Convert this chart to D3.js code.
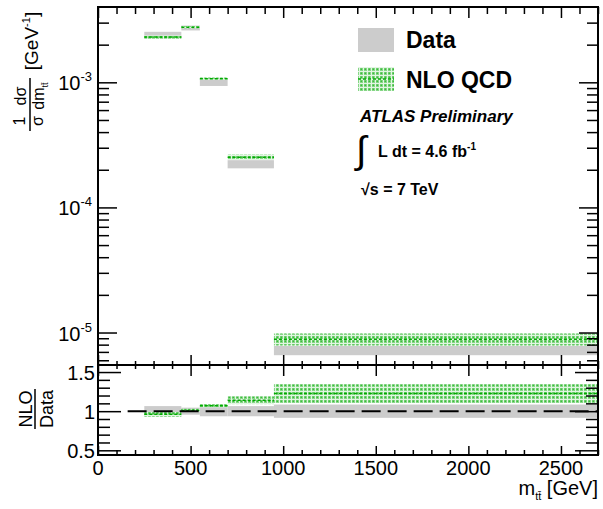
<!DOCTYPE html>
<html>
<head>
<meta charset="utf-8">
<script src="https://cdn.jsdelivr.net/npm/d3@7"></script>
<style>
  body { margin: 0; background: #fff; }
  svg { display: block; font-family: 'Liberation Sans', Arial, sans-serif; }
</style>
</head>
<body>
<div id="chart"></div>
<script>
const binLow = [250, 450, 550, 700, 950]
const binHigh = [450, 550, 700, 950, 2700]
const dataValue = [2.39e-3, 2.72e-3, 1.0e-3, 2.22e-4, 7.2e-6]
const dataRelErr = [0.06, 0.045, 0.065, 0.075, 0.085]
const nloValue = [2.30e-3, 2.76e-3, 1.07e-3, 2.52e-4, 8.85e-6]
const nloRelErr = [0.03, 0.02, 0.02, 0.05, 0.11]
const ratioValue = [0.96, 1.01, 1.07, 1.14, 1.225]
const ratioErr = [0.03, 0.02, 0.02, 0.05, 0.12]
const ratioDataErr = [0.065, 0.045, 0.065, 0.065, 0.085]

const xTicks = [0, 500, 1000, 1500, 2000, 2500]
const yDecades = [1e-5, 1e-4, 1e-3]
const yDecadeExp = ['-5', '-4', '-3']
const ratioTicks = [0.5, 1, 1.5]
const ratioTickLabels = ['0.5', '1', '1.5']

const W = 603, H = 509
const L = 98, R = 598, T = 7, MID = 365, B = 455
const GRAY = '#cccccc', GREEN = '#00aa00'

const svg = d3.select('#chart').append('svg').attr('width', W).attr('height', H)
svg.append('rect').attr('width', W).attr('height', H).attr('fill', '#fff')

const defs = svg.append('defs')
const pat = defs.append('pattern').attr('id', 'nlo').attr('patternUnits', 'userSpaceOnUse')
  .attr('width', 4).attr('height', 4)
pat.append('rect').attr('width', 4).attr('height', 4).attr('fill', '#e2f5e2')
pat.append('rect').attr('width', 3).attr('height', 3).attr('fill', '#86d686')
pat.append('rect').attr('x', 0.5).attr('y', 0.5).attr('width', 1.5).attr('height', 1.5).attr('fill', '#3cbc3c')

const x = d3.scaleLinear().domain([0, 2700]).range([L, R])
const y = d3.scaleLog().domain([5.5e-6, 4e-3]).range([MID, T])
const yr = d3.scaleLinear().domain([0.44, 1.59]).range([B, MID])

const bins = d3.range(binLow.length)

// upper pad bands
svg.append('g').selectAll('rect').data(bins).enter().append('rect')
  .attr('x', i => x(binLow[i])).attr('width', i => x(binHigh[i]) - x(binLow[i]))
  .attr('y', i => y(dataValue[i] * (1 + dataRelErr[i])))
  .attr('height', i => y(dataValue[i] * (1 - dataRelErr[i])) - y(dataValue[i] * (1 + dataRelErr[i])))
  .attr('fill', GRAY)

svg.append('g').selectAll('rect').data(bins).enter().append('rect')
  .attr('x', i => x(binLow[i])).attr('width', i => x(binHigh[i]) - x(binLow[i]))
  .attr('y', i => y(nloValue[i] * (1 + nloRelErr[i])))
  .attr('height', i => y(nloValue[i] * (1 - nloRelErr[i])) - y(nloValue[i] * (1 + nloRelErr[i])))
  .attr('fill', 'url(#nlo)')

svg.append('g').selectAll('line').data(bins).enter().append('line')
  .attr('x1', i => x(binLow[i])).attr('x2', i => x(binHigh[i]))
  .attr('y1', i => y(nloValue[i])).attr('y2', i => y(nloValue[i]))
  .attr('stroke', GREEN).attr('stroke-width', 1.5).attr('stroke-dasharray', '3,2')

// ratio pad bands
svg.append('g').selectAll('rect').data(bins).enter().append('rect')
  .attr('x', i => x(binLow[i])).attr('width', i => x(binHigh[i]) - x(binLow[i]))
  .attr('y', i => yr(1 + ratioDataErr[i]))
  .attr('height', i => yr(1 - ratioDataErr[i]) - yr(1 + ratioDataErr[i]))
  .attr('fill', GRAY)

svg.append('g').selectAll('rect').data(bins).enter().append('rect')
  .attr('x', i => x(binLow[i])).attr('width', i => x(binHigh[i]) - x(binLow[i]))
  .attr('y', i => yr(ratioValue[i] + ratioErr[i]))
  .attr('height', i => yr(ratioValue[i] - ratioErr[i]) - yr(ratioValue[i] + ratioErr[i]))
  .attr('fill', 'url(#nlo)')

svg.append('g').selectAll('line').data(bins).enter().append('line')
  .attr('x1', i => x(binLow[i])).attr('x2', i => x(binHigh[i]))
  .attr('y1', i => yr(ratioValue[i])).attr('y2', i => yr(ratioValue[i]))
  .attr('stroke', GREEN).attr('stroke-width', 1.5).attr('stroke-dasharray', '3,2')

svg.append('line')
  .attr('x1', x(160)).attr('x2', x(2700)).attr('y1', yr(1)).attr('y2', yr(1))
  .attr('stroke', '#000').attr('stroke-width', 2).attr('stroke-dasharray', '19,7')

// axes
const xMinor = d3.range(0, 2701, 100).filter(v => v % 500 !== 0)
const logMinor = []
d3.range(-6, -2).forEach(e => d3.range(2, 10).forEach(m => {
  const v = m * Math.pow(10, e)
  if (v > 5.5e-6 && v < 4e-3) logMinor.push(v)
}))
const rMinor = d3.range(5, 16).map(v => v / 10).filter(v => !ratioTicks.includes(v))

function ticks (axis, pos, values, size) {
  const g = svg.append('g').attr('transform', pos)
    .call(axis.tickValues(values).tickSize(size).tickFormat(''))
  g.select('.domain').remove()
  g.selectAll('.tick line').attr('stroke', '#000').attr('stroke-width', 1.5)
  return g
}

// upper pad
ticks(d3.axisBottom(x), `translate(0,${T})`, xMinor, 7)
ticks(d3.axisBottom(x), `translate(0,${T})`, xTicks, 11)
ticks(d3.axisTop(x), `translate(0,${MID})`, xMinor, 4)
ticks(d3.axisTop(x), `translate(0,${MID})`, xTicks, 10)
ticks(d3.axisRight(y), `translate(${L},0)`, logMinor, 11)
ticks(d3.axisRight(y), `translate(${L},0)`, yDecades, 19)
ticks(d3.axisLeft(y), `translate(${R},0)`, logMinor, 11)
ticks(d3.axisLeft(y), `translate(${R},0)`, yDecades, 19)

// ratio pad
ticks(d3.axisBottom(x), `translate(0,${MID})`, xMinor, 4)
ticks(d3.axisBottom(x), `translate(0,${MID})`, xTicks, 11)
ticks(d3.axisTop(x), `translate(0,${B})`, xMinor, 5)
ticks(d3.axisTop(x), `translate(0,${B})`, xTicks, 9)
ticks(d3.axisRight(yr), `translate(${L},0)`, rMinor, 12)
ticks(d3.axisRight(yr), `translate(${L},0)`, ratioTicks, 23)
ticks(d3.axisLeft(yr), `translate(${R},0)`, rMinor, 12)
ticks(d3.axisLeft(yr), `translate(${R},0)`, ratioTicks, 23)

// frames
svg.append('rect').attr('x', L).attr('y', T).attr('width', R - L).attr('height', MID - T)
  .attr('fill', 'none').attr('stroke', '#000').attr('stroke-width', 2)
svg.append('rect').attr('x', L).attr('y', MID).attr('width', R - L).attr('height', B - MID)
  .attr('fill', 'none').attr('stroke', '#000').attr('stroke-width', 2)

// tick labels
svg.append('g').selectAll('text').data(xTicks).enter().append('text')
  .attr('x', d => x(d)).attr('y', 475).attr('text-anchor', 'middle')
  .attr('font-size', 20).text(d => d)

const yl = svg.append('g').selectAll('text').data(yDecades).enter().append('text')
  .attr('x', 92).attr('y', d => y(d) + 8).attr('text-anchor', 'end').attr('font-size', 20)
yl.append('tspan').text('10')
yl.append('tspan').attr('dy', -9).attr('font-size', 13).text((d, i) => yDecadeExp[i])

svg.append('g').selectAll('text').data(ratioTicks).enter().append('text')
  .attr('x', 95).attr('y', d => yr(d) + 8).attr('text-anchor', 'end').attr('font-size', 20)
  .text((d, i) => ratioTickLabels[i])

// axis titles
const xt = svg.append('text').attr('x', R).attr('y', 495).attr('text-anchor', 'end').attr('font-size', 20)
xt.append('tspan').text('m')
xt.append('tspan').attr('dy', 5).attr('font-size', 11).text('tt\u0304')
xt.append('tspan').attr('dy', -5).text(' [GeV]')

const yt = svg.append('g').attr('transform', 'rotate(-90)')
yt.append('text').attr('x', -121).attr('y', 25).attr('text-anchor', 'middle').attr('font-size', 16).text('1')
yt.append('line').attr('x1', -131).attr('x2', -112).attr('y1', 30).attr('y2', 30).attr('stroke', '#000').attr('stroke-width', 1.5)
yt.append('text').attr('x', -121).attr('y', 43).attr('text-anchor', 'middle').attr('font-size', 16).text('σ')
yt.append('text').attr('x', -96).attr('y', 26).attr('text-anchor', 'middle').attr('font-size', 16).text('dσ')
yt.append('line').attr('x1', -112).attr('x2', -78).attr('y1', 30).attr('y2', 30).attr('stroke', '#000').attr('stroke-width', 1.5)
const dm = yt.append('text').attr('x', -96).attr('y', 44).attr('text-anchor', 'middle').attr('font-size', 16)
dm.append('tspan').text('dm')
dm.append('tspan').attr('dy', 4).attr('font-size', 9).text('tt\u0304')
const gev = yt.append('text').attr('x', -41).attr('y', 38).attr('text-anchor', 'middle').attr('font-size', 19)
gev.append('tspan').text('[GeV')
gev.append('tspan').attr('dy', -8).attr('font-size', 11).text('-1')
gev.append('tspan').attr('dy', 8).text(']')

yt.append('text').attr('x', -409).attr('y', 32).attr('text-anchor', 'middle').attr('font-size', 18).text('NLO')
yt.append('line').attr('x1', -429).attr('x2', -389).attr('y1', 35).attr('y2', 35).attr('stroke', '#000').attr('stroke-width', 1.5)
yt.append('text').attr('x', -409).attr('y', 53).attr('text-anchor', 'middle').attr('font-size', 18).text('Data')

// legend
svg.append('rect').attr('x', 358).attr('y', 28).attr('width', 36).attr('height', 24).attr('fill', GRAY)
svg.append('rect').attr('x', 358).attr('y', 67).attr('width', 36).attr('height', 24).attr('fill', 'url(#nlo)')
svg.append('line').attr('x1', 358).attr('x2', 394).attr('y1', 79).attr('y2', 79)
  .attr('stroke', GREEN).attr('stroke-width', 1.5).attr('stroke-dasharray', '3,2')
svg.append('text').attr('x', 406).attr('y', 48).attr('font-size', 23).attr('font-weight', 'bold').text('Data')
svg.append('text').attr('x', 406).attr('y', 88).attr('font-size', 23).attr('font-weight', 'bold').text('NLO QCD')

svg.append('text').attr('x', 360).attr('y', 122).attr('font-size', 17).attr('font-weight', 'bold')
  .attr('font-style', 'italic').text('ATLAS Preliminary')
svg.append('text').attr('x', 356).attr('y', 163).attr('font-size', 38).text('∫')
const lumi = svg.append('text').attr('x', 378).attr('y', 157).attr('font-size', 16).attr('font-weight', 'bold')
lumi.append('tspan').text('L dt = 4.6 fb')
lumi.append('tspan').attr('dy', -7).attr('font-size', 10).text('-1')
svg.append('text').attr('x', 361).attr('y', 195).attr('font-size', 16).attr('font-weight', 'bold').text('√s = 7 TeV')
</script>
</body>
</html>
